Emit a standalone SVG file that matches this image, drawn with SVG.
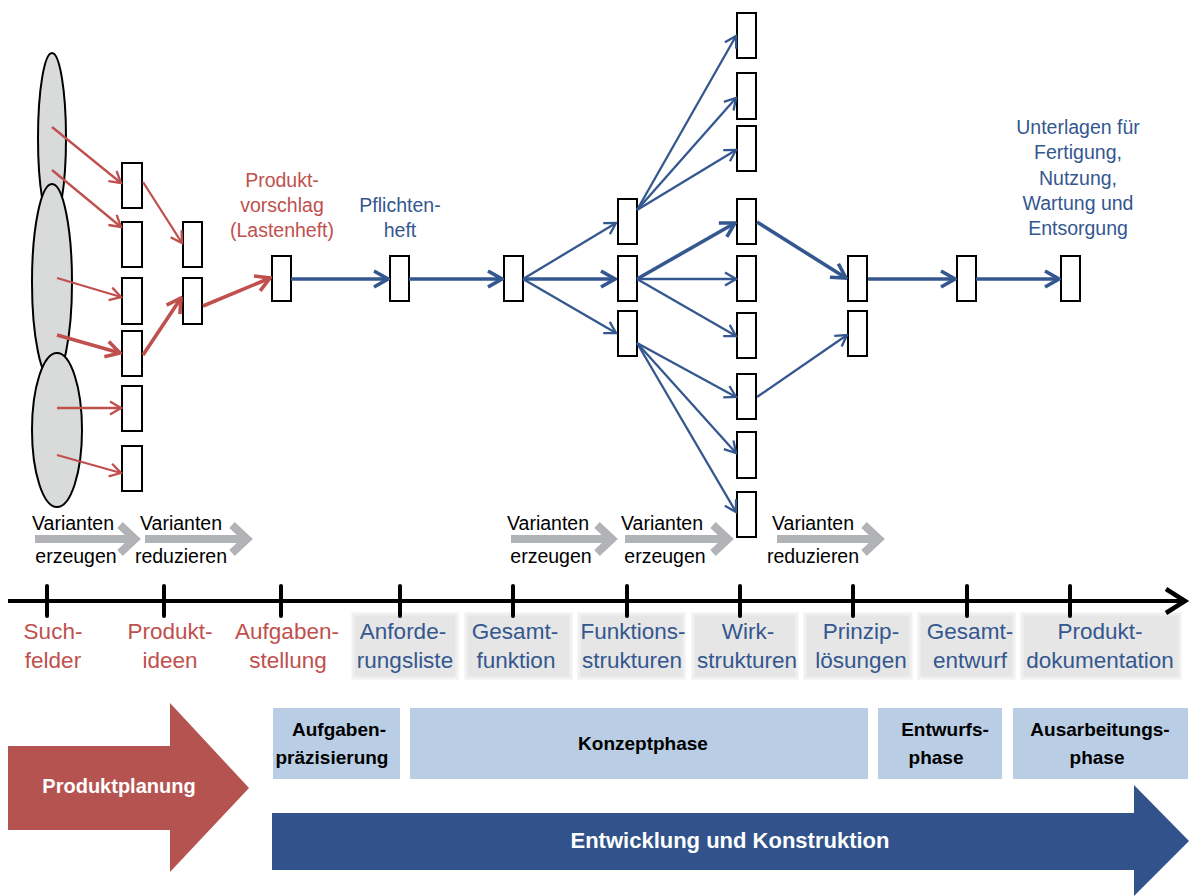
<svg xmlns="http://www.w3.org/2000/svg" width="1192" height="896" viewBox="0 0 1192 896">
<defs>
<style>
.box{fill:#fff;stroke:#000;stroke-width:2}
.ell{fill:#D9DADA;stroke:#000;stroke-width:2}
.rt{stroke:#C0504D;stroke-width:2.3;fill:none}
.rT{stroke:#C0504D;stroke-width:3.6;fill:none}
.bt{stroke:#34578F;stroke-width:2.3;fill:none}
.bT{stroke:#34578F;stroke-width:3.6;fill:none}
.t{font-family:"Liberation Sans",Arial,sans-serif;text-anchor:middle}
.red{fill:#C0504D;font-size:19.5px}
.blue{fill:#34578F;font-size:19.5px}
.axr{fill:#C0504D;font-size:22.5px}
.axb{fill:#34578F;font-size:22.5px}
.var{fill:#000;font-size:19.5px}
.ph{fill:#000;font-size:19px;font-weight:bold}
.wh{fill:#fff;font-weight:bold}
.lbg{fill:#E6E6E6;stroke:#F0F0F0;stroke-width:3}
.pbox{fill:#B9CDE5}
.gv{stroke:#B2B3B7;stroke-width:8;fill:none}
</style>
<marker id="mrt" viewBox="-14 -9 16 18" markerWidth="16" markerHeight="18" refX="0" refY="0" orient="auto" markerUnits="userSpaceOnUse"><path d="M-11,-6.5 L0,0 L-11,6.5" fill="none" stroke="#C0504D" stroke-width="2.3"/></marker>
<marker id="mrT" viewBox="-18 -11 20 22" markerWidth="20" markerHeight="22" refX="0" refY="0" orient="auto" markerUnits="userSpaceOnUse"><path d="M-14,-8 L0,0 L-14,8" fill="none" stroke="#C0504D" stroke-width="3.6"/></marker>
<marker id="mbt" viewBox="-14 -9 16 18" markerWidth="16" markerHeight="18" refX="0" refY="0" orient="auto" markerUnits="userSpaceOnUse"><path d="M-11,-6.5 L0,0 L-11,6.5" fill="none" stroke="#34578F" stroke-width="2.3"/></marker>
<marker id="mbT" viewBox="-18 -11 20 22" markerWidth="20" markerHeight="22" refX="0" refY="0" orient="auto" markerUnits="userSpaceOnUse"><path d="M-14,-8 L0,0 L-14,8" fill="none" stroke="#34578F" stroke-width="3.6"/></marker>
</defs>
<rect width="1192" height="896" fill="#fff"/>

<g id="suchfelder">
<ellipse class="ell" cx="52" cy="138" rx="14" ry="85"/>
<ellipse class="ell" cx="52" cy="282" rx="20" ry="98"/>
<ellipse class="ell" cx="57" cy="430" rx="25" ry="77"/>
</g>

<g id="ideen">
<rect class="box" x="122" y="163" width="20" height="45"/>
<rect class="box" x="122" y="222" width="20" height="45"/>
<rect class="box" x="122" y="278" width="20" height="46"/>
<rect class="box" x="122" y="331" width="20" height="45"/>
<rect class="box" x="122" y="386" width="20" height="45"/>
<rect class="box" x="122" y="446" width="20" height="45"/>
</g>
<g id="reduziert">
<rect class="box" x="183" y="222" width="19" height="45"/>
<rect class="box" x="183" y="278" width="19" height="46"/>
</g>
<g id="produktvorschlag">
<rect class="box" x="272" y="256" width="19" height="45"/>
<text class="t red" x="282" y="187">Produkt-</text>
<text class="t red" x="282" y="212">vorschlag</text>
<text class="t red" x="282" y="237">(Lastenheft)</text>
</g>
<g id="pflichtenheft">
<rect class="box" x="390" y="256" width="19" height="45"/>
<text class="t blue" x="400" y="212">Pflichten-</text>
<text class="t blue" x="400" y="237">heft</text>
</g>
<g id="gesamtfunktion">
<rect class="box" x="504" y="256" width="19" height="45"/>
</g>
<g id="funktionsstrukturen">
<rect class="box" x="618" y="199" width="19" height="45"/>
<rect class="box" x="618" y="256" width="19" height="45"/>
<rect class="box" x="618" y="311" width="19" height="45"/>
</g>
<g id="wirkstrukturen">
<rect class="box" x="737" y="13" width="19" height="45"/>
<rect class="box" x="737" y="73" width="19" height="46"/>
<rect class="box" x="737" y="126" width="19" height="45"/>
<rect class="box" x="737" y="199" width="19" height="45"/>
<rect class="box" x="737" y="256" width="19" height="45"/>
<rect class="box" x="737" y="313" width="19" height="45"/>
<rect class="box" x="737" y="374" width="19" height="45"/>
<rect class="box" x="737" y="432" width="19" height="46"/>
<rect class="box" x="737" y="492" width="19" height="45"/>
</g>
<g id="prinziploesungen">
<rect class="box" x="848" y="256" width="19" height="45"/>
<rect class="box" x="848" y="311" width="19" height="45"/>
</g>
<g id="gesamtentwurf">
<rect class="box" x="957" y="256" width="19" height="45"/>
</g>
<g id="produktdokumentation">
<rect class="box" x="1061" y="256" width="19" height="45"/>
<text class="t blue" x="1078" y="134">Unterlagen für</text>
<text class="t blue" x="1078" y="159">Fertigung,</text>
<text class="t blue" x="1078" y="185">Nutzung,</text>
<text class="t blue" x="1078" y="210">Wartung und</text>
<text class="t blue" x="1078" y="235">Entsorgung</text>
</g>

<g id="connectors">
<line class="rt" x1="52" y1="127" x2="121" y2="183" marker-end="url(#mrt)"/>
<line class="rt" x1="52" y1="170" x2="121" y2="227" marker-end="url(#mrt)"/>
<line class="rt" x1="57" y1="278" x2="121" y2="297" marker-end="url(#mrt)"/>
<line class="rT" x1="57" y1="335" x2="120" y2="353" marker-end="url(#mrT)"/>
<line class="rt" x1="57" y1="408" x2="121" y2="408" marker-end="url(#mrt)"/>
<line class="rt" x1="57" y1="455" x2="121" y2="473" marker-end="url(#mrt)"/>
<line class="rt" x1="143" y1="182" x2="182" y2="243" marker-end="url(#mrt)"/>
<line class="rT" x1="143" y1="355" x2="181" y2="298" marker-end="url(#mrT)"/>
<line class="rT" x1="203" y1="306" x2="270" y2="278" marker-end="url(#mrT)"/>

<line class="bT" x1="291" y1="279" x2="388" y2="279" marker-end="url(#mbT)"/>
<line class="bT" x1="409" y1="279" x2="502" y2="279" marker-end="url(#mbT)"/>
<line class="bt" x1="523" y1="279" x2="616" y2="223" marker-end="url(#mbt)"/>
<line class="bT" x1="523" y1="279" x2="615" y2="279" marker-end="url(#mbT)"/>
<line class="bt" x1="523" y1="279" x2="616" y2="333" marker-end="url(#mbt)"/>
<line class="bt" x1="637" y1="210" x2="736" y2="36" marker-end="url(#mbt)"/>
<line class="bt" x1="637" y1="210" x2="736" y2="98" marker-end="url(#mbt)"/>
<line class="bt" x1="637" y1="210" x2="736" y2="150" marker-end="url(#mbt)"/>
<line class="bT" x1="637" y1="279" x2="735" y2="223" marker-end="url(#mbT)"/>
<line class="bt" x1="637" y1="279" x2="736" y2="279" marker-end="url(#mbt)"/>
<line class="bt" x1="637" y1="279" x2="736" y2="336" marker-end="url(#mbt)"/>
<line class="bt" x1="637" y1="343" x2="736" y2="397" marker-end="url(#mbt)"/>
<line class="bt" x1="637" y1="343" x2="736" y2="453" marker-end="url(#mbt)"/>
<line class="bt" x1="637" y1="343" x2="736" y2="512" marker-end="url(#mbt)"/>
<line class="bT" x1="757" y1="222" x2="846" y2="278" marker-end="url(#mbT)"/>
<line class="bt" x1="757" y1="397" x2="847" y2="335" marker-end="url(#mbt)"/>
<line class="bT" x1="868" y1="279" x2="955" y2="279" marker-end="url(#mbT)"/>
<line class="bT" x1="976" y1="279" x2="1059" y2="279" marker-end="url(#mbT)"/>
</g>

<g id="varianten">
<line class="gv" x1="35" y1="539" x2="134" y2="539"/>
<polyline class="gv" points="120,525 135,539 120,553"/>
<line class="gv" x1="145" y1="539" x2="245" y2="539"/>
<polyline class="gv" points="232,525 247,539 232,553"/>
<line class="gv" x1="511" y1="539" x2="610" y2="539"/>
<polyline class="gv" points="597,525 612,539 597,553"/>
<line class="gv" x1="625" y1="539" x2="726" y2="539"/>
<polyline class="gv" points="713,525 728,539 713,553"/>
<line class="gv" x1="777" y1="539" x2="877" y2="539"/>
<polyline class="gv" points="864,525 879,539 864,553"/>
<text class="t var" x="73" y="530">Varianten</text>
<text class="t var" x="76" y="563">erzeugen</text>
<text class="t var" x="181" y="530">Varianten</text>
<text class="t var" x="181" y="563">reduzieren</text>
<text class="t var" x="548" y="530">Varianten</text>
<text class="t var" x="551" y="563">erzeugen</text>
<text class="t var" x="662" y="530">Varianten</text>
<text class="t var" x="665" y="563">erzeugen</text>
<text class="t var" x="813" y="530">Varianten</text>
<text class="t var" x="813" y="563">reduzieren</text>
</g>

<g id="achse">
<rect class="lbg" x="353" y="614" width="104" height="64"/>
<rect class="lbg" x="466" y="614" width="105" height="64"/>
<rect class="lbg" x="579" y="614" width="105" height="64"/>
<rect class="lbg" x="693" y="614" width="104" height="64"/>
<rect class="lbg" x="805" y="614" width="106" height="64"/>
<rect class="lbg" x="919" y="614" width="95" height="64"/>
<rect class="lbg" x="1022" y="614" width="158" height="64"/>
<line x1="8" y1="601" x2="1184" y2="601" stroke="#000" stroke-width="4"/>
<polyline points="1166,589 1185,601 1166,613" fill="none" stroke="#000" stroke-width="4.5"/>
<g stroke="#000" stroke-width="4" stroke-linecap="round">
<line x1="47" y1="586" x2="47" y2="616"/>
<line x1="164" y1="586" x2="164" y2="616"/>
<line x1="281" y1="586" x2="281" y2="616"/>
<line x1="400" y1="586" x2="400" y2="616"/>
<line x1="513" y1="586" x2="513" y2="616"/>
<line x1="627" y1="586" x2="627" y2="616"/>
<line x1="740" y1="586" x2="740" y2="616"/>
<line x1="853" y1="586" x2="853" y2="616"/>
<line x1="967" y1="586" x2="967" y2="616"/>
<line x1="1070" y1="586" x2="1070" y2="616"/>
</g>
<text class="t axr" x="53" y="639">Such-</text>
<text class="t axr" x="53" y="668">felder</text>
<text class="t axr" x="170" y="639">Produkt-</text>
<text class="t axr" x="170" y="668">ideen</text>
<text class="t axr" x="287" y="639">Aufgaben-</text>
<text class="t axr" x="288" y="668">stellung</text>
<text class="t axb" x="403" y="639">Anforde-</text>
<text class="t axb" x="405" y="668">rungsliste</text>
<text class="t axb" x="515" y="639">Gesamt-</text>
<text class="t axb" x="516" y="668">funktion</text>
<text class="t axb" x="633" y="639">Funktions-</text>
<text class="t axb" x="632" y="668">strukturen</text>
<text class="t axb" x="748" y="639">Wirk-</text>
<text class="t axb" x="747" y="668">strukturen</text>
<text class="t axb" x="861" y="639">Prinzip-</text>
<text class="t axb" x="861" y="668">lösungen</text>
<text class="t axb" x="970" y="639">Gesamt-</text>
<text class="t axb" x="970" y="668">entwurf</text>
<text class="t axb" x="1100" y="639">Produkt-</text>
<text class="t axb" x="1100" y="668">dokumentation</text>
</g>

<g id="produktplanung">
<polygon points="8,746 170,746 170,703 249,788 170,872 170,830 8,830" fill="#B55350"/>
<text class="t wh" x="119" y="793" font-size="20">Produktplanung</text>
</g>
<g id="aufgabenpraezisierung">
<rect class="pbox" x="273" y="708" width="127" height="71"/>
<text class="t ph" x="339" y="736">Aufgaben-</text>
<text class="t ph" x="332" y="764">präzisierung</text>
</g>
<g id="konzeptphase">
<rect class="pbox" x="410" y="708" width="458" height="71"/>
<text class="t ph" x="643" y="750">Konzeptphase</text>
</g>
<g id="entwurfsphase">
<rect class="pbox" x="878" y="708" width="124" height="71"/>
<text class="t ph" x="945" y="736">Entwurfs-</text>
<text class="t ph" x="936" y="764">phase</text>
</g>
<g id="ausarbeitungsphase">
<rect class="pbox" x="1013" y="708" width="175" height="71"/>
<text class="t ph" x="1100" y="736">Ausarbeitungs-</text>
<text class="t ph" x="1097" y="764">phase</text>
</g>
<g id="entwicklung">
<polygon points="272,813 1134,813 1134,785 1189,841 1134,896 1134,870 272,870" fill="#31528A"/>
<text class="t wh" x="730" y="848" font-size="22">Entwicklung und Konstruktion</text>
</g>
</svg>
